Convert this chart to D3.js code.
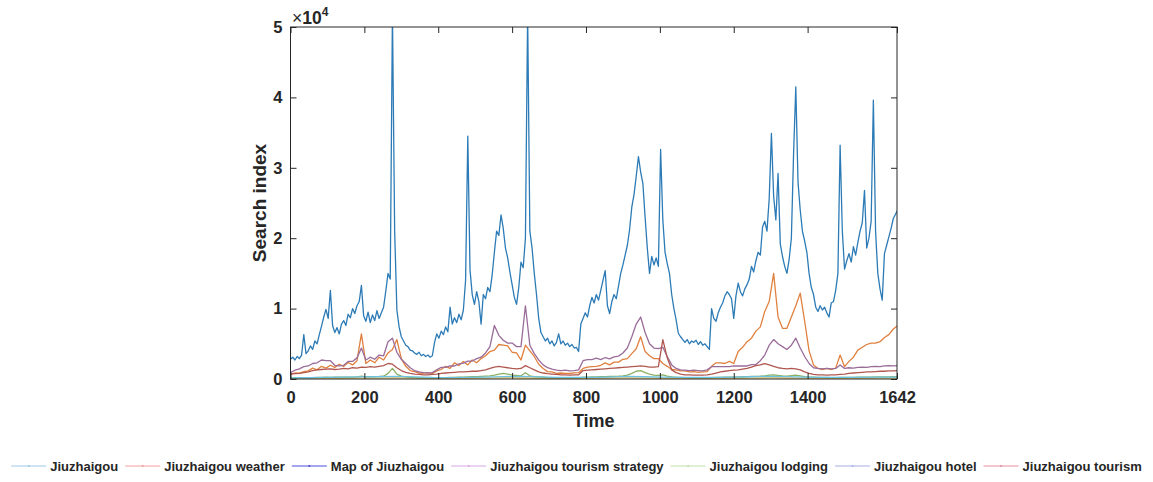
<!DOCTYPE html>
<html>
<head>
<meta charset="utf-8">
<script src="https://cdn.jsdelivr.net/npm/d3@7"></script>
<style>
  body { margin: 0; background: #fff; }
  text { font-family: "Liberation Sans", Arial, sans-serif; font-weight: bold; fill: #262626; }
</style>
</head>
<body>
<svg id="chart" width="1153" height="482"></svg>
<script>
// series names, in legend order
const seriesNames = ["Jiuzhaigou", "Jiuzhaigou weather", "Map of Jiuzhaigou",
  "Jiuzhaigou tourism strategy", "Jiuzhaigou lodging", "Jiuzhaigou hotel", "Jiuzhaigou tourism"];
const lineColors = ["#2c7bb6", "#e0803f", "#e6bd55", "#9a6c99", "#8cb063", "#6cc3e6", "#b0574f"];
const legendColors = ["#9cc8e4", "#f2a0a0", "#4a4ae0", "#d6a8e2", "#bfe0a6", "#a6aee2", "#e48e9e"];
// days between samples for each series
const steps = [6, 12, 48, 12, 12, 48, 12];

const jiuzhaigou = [2800,3100,2700,3200,2900,3400,6300,3600,4000,4700,4200,5400,5000,6300,7500,8800,9900,8600,12600,7600,
  6600,7300,6400,7800,8300,7600,9200,8700,10000,9300,10400,11000,13300,9000,8200,9500,8000,9100,8300,9700,
  8600,9400,10200,12500,15000,14200,52000,21000,9800,7400,6000,5400,4800,4600,4100,4000,3700,3500,3800,3300,
  3500,3200,3400,3100,3300,5200,6400,5800,6800,6300,7400,6700,10200,7800,8700,8000,9200,8400,9800,14000,
  34500,15500,12000,10600,12400,11000,7800,12000,11400,13000,12400,14800,18000,21000,20400,23300,21400,18600,17200,15200,
  13400,11600,10600,13000,16600,15800,20000,52000,21000,18600,15000,12000,8600,6600,6000,5400,5800,5000,5400,4700,
  5200,6400,5000,5400,4800,5100,4600,4900,4400,4500,3900,7800,8600,9400,8800,10400,11600,10800,12000,11200,
  12600,14000,15400,10400,9300,11000,12000,11400,13200,15000,16200,17600,19000,21200,24400,26200,28800,31600,29400,27800,
  23000,18600,15000,17400,16200,17200,16000,32600,22600,18000,16400,15000,12000,10000,8400,6500,6000,5600,5200,5600,
  5000,5400,5200,5500,4900,5300,4800,5000,4600,4200,10000,8600,8200,9400,10200,10800,11800,12400,12000,11400,
  8600,11800,13600,12400,11800,12800,13400,14200,16000,15200,16800,18000,17600,21600,22400,21000,25600,34900,26000,22600,
  29200,19200,17400,16000,15000,17000,20000,32000,41500,28000,24000,21000,19600,18000,15000,13000,12000,10200,9600,10400,
  9800,10200,9400,8800,10800,11000,12600,15000,33200,21000,15600,16800,17800,16600,18800,17600,19400,21000,22200,26800,
  18600,20000,22400,39600,21000,15000,12800,11200,17800,19000,20200,21400,22800,23400,24000];

const weather = [700,850,820,1050,1150,1550,1300,1800,1550,1950,
  1650,2100,1800,2350,2000,2600,6400,2200,2700,2300,
  3100,2700,3700,4200,5600,2900,1800,1200,1050,850,
  820,900,780,1150,1350,1800,1500,2300,1900,2500,
  2000,2700,2300,2900,3300,3900,4100,4900,4800,4700,
  3800,3700,2700,4800,4000,3200,2100,1500,1050,1000,
  800,850,800,780,880,900,1500,1700,1750,1800,
  1950,2300,2000,2400,2400,2800,2900,3600,4300,6000,
  3900,3300,2900,2900,2200,1800,1350,1300,1150,1150,
  1000,1050,950,1000,1050,1800,2300,2300,2200,2500,
  2200,3900,4500,5300,5800,6800,7400,9600,11000,15000,
  8800,7200,7200,8800,10400,12200,8200,4000,2000,1500,
  1350,1500,1350,1550,3400,1750,2500,3100,4100,4500,
  4900,5100,5100,5300,5900,6300,7100,7600];

const mapOf = [80,90,100,110,120,130,150,120,100,90,110,130,160,140,110,100,90,100,
  120,150,130,110,100,90,100,110,130,150,140,120,110,100,110,120,130,130];

const strategy = [900,1250,1450,1750,1850,2200,2300,2700,2600,2600,
  1950,1850,1950,2500,2500,3000,4400,2700,3100,2800,
  3400,3300,5300,5800,3800,2800,2200,1600,1200,1000,
  900,850,900,1300,1650,1650,1850,1850,2150,2250,
  2550,2550,2900,3100,3700,4600,7600,6200,5500,5100,
  5100,4600,4600,10400,4800,3600,2700,2000,1600,1400,
  1250,1200,1250,1150,1200,1300,2600,2750,2750,2950,
  2750,3050,2850,3150,3250,3700,4400,6000,7800,8800,
  6600,5000,4400,4300,4500,3200,2000,1500,1300,1250,
  1200,1250,1200,1150,1300,1750,1750,1750,1750,1750,
  1850,1850,1850,1850,2050,2050,2600,3400,4800,5600,
  5000,4600,4200,4800,5800,4400,3200,2200,1600,1500,
  1450,1500,1450,1500,2000,1500,1600,1550,1650,1700,
  1650,1750,1800,1750,1850,1900,1850,1900];

const lodging = [100,120,150,180,200,200,220,230,250,240,
  250,260,270,260,280,300,400,300,320,340,
  360,400,800,1500,700,400,300,250,200,180,
  170,160,150,170,190,200,220,240,260,280,
  300,320,350,380,420,450,550,700,800,700,
  550,500,450,900,450,350,300,250,200,180,
  170,160,160,150,160,170,250,270,290,300,
  320,340,360,380,400,450,550,800,1100,1200,
  900,700,550,500,600,400,300,250,220,200,
  190,180,180,170,170,200,220,240,250,260,
  280,300,320,340,360,380,400,450,550,600,
  500,450,420,480,550,450,350,280,250,230,
  220,210,200,200,210,220,230,240,250,260,
  270,280,290,300,300,310,320,330];

const hotel = [150,180,220,260,300,320,380,300,220,200,240,280,340,380,300,240,220,240,
  280,360,320,260,240,220,240,260,320,380,340,280,240,220,240,260,280,300];

const tourism = [700,750,800,900,1000,1200,1300,1350,1400,1450,
  1350,1400,1500,1450,1600,1550,1700,1650,1750,1700,
  1800,1900,2200,2100,1600,1200,950,800,700,650,
  600,600,650,700,800,850,900,950,1000,1000,
  1050,1100,1100,1200,1300,1500,1700,1800,1700,1600,
  1500,1450,1500,1900,1600,1300,1000,850,750,700,
  650,600,600,550,600,600,1200,1250,1300,1350,
  1400,1450,1500,1550,1600,1650,1700,1750,1800,1850,
  1800,1700,1700,1750,5600,3000,1300,900,700,600,
  600,550,550,550,600,700,850,1000,1100,1200,
  1250,1300,1400,1500,1700,1900,2000,2200,2000,1800,
  1600,1500,1450,1500,1450,1300,1000,800,650,600,
  600,550,600,600,650,700,800,850,900,950,
  1000,1000,1050,1100,1100,1150,1150,1200];

const allSeries = [jiuzhaigou, weather, mapOf, strategy, lodging, hotel, tourism];

const xTicks = [0, 200, 400, 600, 800, 1000, 1200, 1400, 1642];
const yTicks = [0, 10000, 20000, 30000, 40000, 50000];

const svg = d3.select("#chart");
const plotLeft = 290.5, plotRight = 897, plotTop = 27, plotBottom = 379;

const x = d3.scaleLinear().domain([0, 1642]).range([plotLeft, plotRight]);
const y = d3.scaleLinear().domain([0, 50000]).range([plotBottom, plotTop]);

svg.append("clipPath").attr("id", "plotclip")
  .append("rect").attr("x", plotLeft).attr("y", plotTop)
  .attr("width", plotRight - plotLeft).attr("height", plotBottom - plotTop);

// lines
const plot = svg.append("g").attr("clip-path", "url(#plotclip)");
allSeries.forEach((vals, s) => {
  const line = d3.line()
    .x((d, i) => x(i * steps[s]))
    .y(d => y(d));
  plot.append("path")
    .datum(vals)
    .attr("fill", "none")
    .attr("stroke", lineColors[s])
    .attr("stroke-width", 1.3)
    .attr("stroke-linejoin", "round")
    .attr("d", line);
});

// axes, MATLAB style: inward ticks on all four sides
svg.append("g").attr("transform", `translate(0,${plotBottom})`)
  .call(d3.axisBottom(x).tickValues(xTicks).tickSizeInner(-6).tickSizeOuter(0).tickPadding(12.5)
    .tickFormat(d3.format("d")));
svg.append("g").attr("transform", `translate(${plotLeft},0)`)
  .call(d3.axisLeft(y).tickValues(yTicks).tickSizeInner(-6).tickSizeOuter(0).tickPadding(8)
    .tickFormat(d => d / 10000));
svg.append("g").attr("transform", `translate(0,${plotTop})`)
  .call(d3.axisTop(x).tickValues(xTicks).tickSizeInner(-6).tickSizeOuter(0).tickFormat(""));
svg.append("g").attr("transform", `translate(${plotRight},0)`)
  .call(d3.axisRight(y).tickValues(yTicks).tickSizeInner(-6).tickSizeOuter(0).tickFormat(""));

svg.selectAll(".domain").remove();
svg.selectAll(".tick line").attr("stroke", "#262626");
svg.selectAll(".tick text").attr("font-size", 16.5)
  .attr("font-family", '"Liberation Sans", Arial, sans-serif').attr("font-weight", "bold").attr("fill", "#262626");

svg.append("rect")
  .attr("x", plotLeft).attr("y", plotTop)
  .attr("width", plotRight - plotLeft).attr("height", plotBottom - plotTop)
  .attr("fill", "none").attr("stroke", "#262626").attr("stroke-width", 1);

// exponent label
const expo = svg.append("text").attr("x", 292).attr("y", 23.5).attr("font-size", 17.5);
expo.append("tspan").attr("font-weight", "normal").text("\u00d7");
expo.append("tspan").text("10");
expo.append("tspan").attr("font-size", 12).attr("dy", -8).text("4");

// axis labels
svg.append("text")
  .attr("x", (plotLeft + plotRight) / 2).attr("y", 427)
  .attr("text-anchor", "middle").attr("font-size", 18)
  .text("Time");
svg.append("text")
  .attr("transform", `translate(266,${(plotTop + plotBottom) / 2}) rotate(-90)`)
  .attr("text-anchor", "middle").attr("font-size", 19)
  .text("Search index");

// legend, one row along the bottom
const legend = svg.append("g");
let cx = 0;
seriesNames.forEach((name, s) => {
  const item = legend.append("g");
  item.append("line")
    .attr("x1", cx).attr("x2", cx + 35).attr("y1", 0).attr("y2", 0)
    .attr("stroke", legendColors[s]).attr("stroke-width", 1);
  item.append("circle")
    .attr("cx", cx + 17.5).attr("cy", 0).attr("r", 1)
    .attr("fill", legendColors[s]);
  const t = item.append("text")
    .attr("x", cx + 39).attr("y", 0).attr("dy", "0.35em")
    .attr("font-size", 13)
    .text(name);
  cx += 39 + t.node().getComputedTextLength() + 7;
});
const legendWidth = cx - 7;
legend.attr("transform", `translate(${(1153 - legendWidth) / 2},466)`);
</script>
</body>
</html>
